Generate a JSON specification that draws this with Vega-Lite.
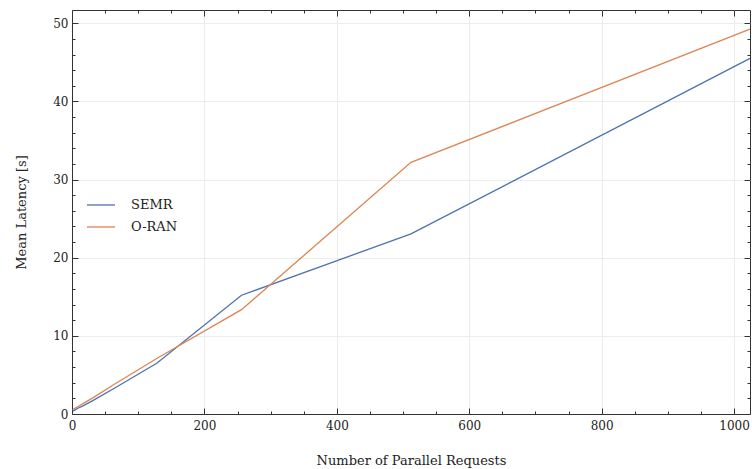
{
  "$schema": "https://vega.github.io/schema/vega-lite/v6.json",
  "width": 678,
  "height": 404,
  "autosize": {"type": "none"},
  "padding": {"left": 72, "top": 10, "right": 2, "bottom": 55},
  "background": "white",
  "config": {
    "font": "DejaVu Serif",
    "view": {"stroke": "#333333", "strokeWidth": 1},
    "axis": {
      "labelFont": "DejaVu Serif",
      "titleFont": "DejaVu Serif",
      "labelFontSize": 12,
      "titleFontSize": 13,
      "titleFontWeight": "normal",
      "labelColor": "#222222",
      "titleColor": "#222222",
      "domainColor": "#333333",
      "tickColor": "#333333",
      "gridColor": "#ececec",
      "gridWidth": 1
    }
  },
  "data": {
    "values": [
      {"n": 1, "latency": 0.35, "method": "SEMR"},
      {"n": 2, "latency": 0.4, "method": "SEMR"},
      {"n": 4, "latency": 0.5, "method": "SEMR"},
      {"n": 8, "latency": 0.7, "method": "SEMR"},
      {"n": 16, "latency": 1.0, "method": "SEMR"},
      {"n": 32, "latency": 1.75, "method": "SEMR"},
      {"n": 64, "latency": 3.3, "method": "SEMR"},
      {"n": 128, "latency": 6.5, "method": "SEMR"},
      {"n": 256, "latency": 15.2, "method": "SEMR"},
      {"n": 512, "latency": 23.05, "method": "SEMR"},
      {"n": 1024, "latency": 45.5, "method": "SEMR"},
      {"n": 1, "latency": 0.55, "method": "O-RAN"},
      {"n": 2, "latency": 0.6, "method": "O-RAN"},
      {"n": 4, "latency": 0.7, "method": "O-RAN"},
      {"n": 8, "latency": 0.9, "method": "O-RAN"},
      {"n": 16, "latency": 1.3, "method": "O-RAN"},
      {"n": 32, "latency": 2.1, "method": "O-RAN"},
      {"n": 64, "latency": 3.8, "method": "O-RAN"},
      {"n": 128, "latency": 7.1, "method": "O-RAN"},
      {"n": 256, "latency": 13.35, "method": "O-RAN"},
      {"n": 512, "latency": 32.2, "method": "O-RAN"},
      {"n": 1024, "latency": 49.25, "method": "O-RAN"}
    ]
  },
  "layer": [
    {
      "mark": {"type": "line", "strokeWidth": 1.3},
      "encoding": {
        "x": {
          "field": "n",
          "type": "quantitative",
          "scale": {"domain": [0, 1024], "nice": false, "zero": false},
          "axis": {
            "orient": "bottom",
            "title": "Number of Parallel Requests",
            "values": [0, 50, 100, 150, 200, 250, 300, 350, 400, 450, 500, 550, 600, 650, 700, 750, 800, 850, 900, 950, 1000],
            "format": "d",
            "labelExpr": "datum.value % 200 === 0 ? datum.label : ''",
            "tickSize": {"condition": {"test": "datum.value % 200 === 0", "value": -6}, "value": -3},
            "gridOpacity": {"condition": {"test": "datum.value % 200 === 0", "value": 1}, "value": 0},
            "grid": true,
            "labelPadding": 12,
            "labelFlush": false,
            "titlePadding": 23
          }
        },
        "y": {
          "field": "latency",
          "type": "quantitative",
          "scale": {"domain": [0, 51.7], "nice": false, "zero": false},
          "axis": {
            "orient": "left",
            "title": "Mean Latency [s]",
            "values": [0, 2, 4, 6, 8, 10, 12, 14, 16, 18, 20, 22, 24, 26, 28, 30, 32, 34, 36, 38, 40, 42, 44, 46, 48, 50],
            "format": "d",
            "labelExpr": "datum.value % 10 === 0 ? datum.label : ''",
            "tickSize": {"condition": {"test": "datum.value % 10 === 0", "value": -6}, "value": -3},
            "gridOpacity": {"condition": {"test": "datum.value % 10 === 0", "value": 1}, "value": 0},
            "grid": true,
            "labelPadding": 10,
            "labelFlush": false,
            "titlePadding": 24
          }
        },
        "color": {
          "field": "method",
          "type": "nominal",
          "scale": {"domain": ["SEMR", "O-RAN"], "range": ["#4C72B0", "#DD8452"]},
          "legend": {
            "title": null,
            "orient": "none",
            "legendX": 14,
            "legendY": 180,
            "symbolType": "stroke",
            "symbolSize": 784,
            "symbolStrokeWidth": 1.3,
            "labelFont": "DejaVu Serif",
            "labelFontSize": 13,
            "labelColor": "#222222",
            "labelOffset": 15,
            "rowPadding": -8
          }
        }
      }
    },
    {
      "mark": {"type": "line", "opacity": 0},
      "encoding": {
        "x": {
          "field": "n",
          "type": "quantitative",
          "axis": {
            "orient": "top",
            "title": null,
            "labels": false,
            "grid": false,
            "domain": false,
            "values": [0, 50, 100, 150, 200, 250, 300, 350, 400, 450, 500, 550, 600, 650, 700, 750, 800, 850, 900, 950, 1000],
            "tickSize": {"condition": {"test": "datum.value % 200 === 0", "value": -6}, "value": -3}
          }
        },
        "y": {
          "field": "latency",
          "type": "quantitative",
          "axis": {
            "orient": "right",
            "title": null,
            "labels": false,
            "grid": false,
            "domain": false,
            "values": [0, 2, 4, 6, 8, 10, 12, 14, 16, 18, 20, 22, 24, 26, 28, 30, 32, 34, 36, 38, 40, 42, 44, 46, 48, 50],
            "tickSize": {"condition": {"test": "datum.value % 10 === 0", "value": -6}, "value": -3}
          }
        },
        "detail": {"field": "method", "type": "nominal"}
      }
    }
  ],
  "resolve": {"axis": {"x": "independent", "y": "independent"}}
}
